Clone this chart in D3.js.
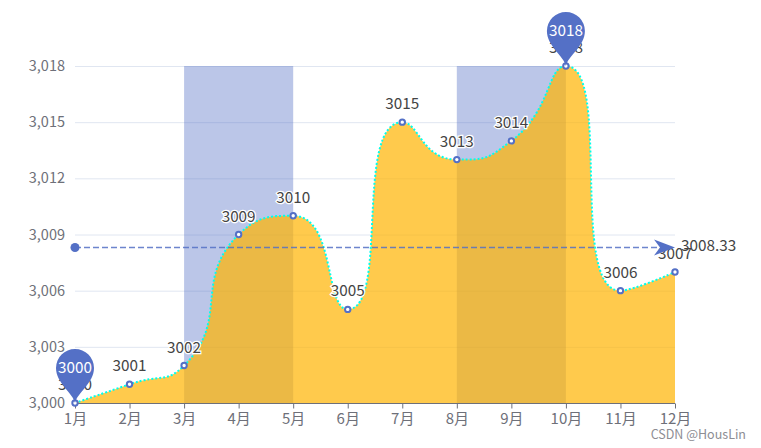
<!DOCTYPE html>
<html>
<head>
<meta charset="utf-8">
<script src="https://cdn.jsdelivr.net/npm/d3@7"></script>
<style>
    html, body { margin: 0; padding: 0; background: #fff; }
    svg { display: block; }
    text { font-family: "Noto Sans CJK SC", "Noto Sans", sans-serif; }
</style>
</head>
<body>
<svg></svg>
<script>
// chart values
var months = ["1月", "2月", "3月", "4月", "5月", "6月", "7月", "8月", "9月", "10月", "11月", "12月"];
var values = [3000, 3001, 3002, 3009, 3010, 3005, 3015, 3013, 3014, 3018, 3006, 3007];
var yTicks = [3000, 3003, 3006, 3009, 3012, 3015, 3018];
var bands = [["3月", "5月"], ["8月", "10月"]];
var pinned = [0, 9];
var average = 3008.33;

var svg = d3.select("svg").attr("width", 761).attr("height", 448);

var x = d3.scalePoint().domain(months).range([75, 675]);
var y = d3.scaleLinear().domain([3000, 3018]).range([403, 66]);

// same idea as the echarts smooth line, d3 has no curve like it
function smoothCurve(context) {
    var pts = [];
    var smooth = 0.6;
    return {
        areaStart: function() { this._line = 0; },
        areaEnd: function() { this._line = NaN; context.closePath(); },
        lineStart: function() { pts = []; },
        point: function(px, py) { pts.push([+px, +py]); },
        lineEnd: function() {
            var n = pts.length;
            var cpIn = [], cpOut = [];
            pts.forEach(function(p, i) {
                if (i === 0 || i === n - 1) { cpIn[i] = p; cpOut[i] = p; return; }
                var a = pts[i - 1], b = pts[i + 1];
                var vx = b[0] - a[0], vy = b[1] - a[1];
                var lenA = Math.hypot(p[0] - a[0], p[1] - a[1]);
                var lenB = Math.hypot(b[0] - p[0], b[1] - p[1]);
                var r = lenB / (lenA + lenB);
                var ox = p[0] + vx * r * smooth, oy = p[1] + vy * r * smooth;
                var ix = p[0] - vx * (1 - r) * smooth, iy = p[1] - vy * (1 - r) * smooth;
                // keep the control points inside the neighbouring values
                oy = Math.min(oy, Math.max(b[1], p[1])); oy = Math.max(oy, Math.min(b[1], p[1]));
                ox = Math.min(ox, Math.max(b[0], p[0]));
                ix = Math.max(ix, Math.min(a[0], p[0]));
                iy = Math.min(iy, Math.max(a[1], p[1])); iy = Math.max(iy, Math.min(a[1], p[1]));
                // recalc so both sides stay on one tangent
                var dx = ox - p[0], dy = oy - p[1];
                var ix2 = p[0] - dx * lenA / lenB, iy2 = p[1] - dy * lenA / lenB;
                var dx2 = ix - p[0], dy2 = iy - p[1];
                if (Math.hypot(dx2, dy2) < Math.hypot(ix2 - p[0], iy2 - p[1])) {
                    ox = p[0] - dx2 * lenB / lenA; oy = p[1] - dy2 * lenB / lenA;
                } else { ix = ix2; iy = iy2; }
                cpIn[i] = [ix, iy];
                cpOut[i] = [ox, oy];
            });
            if (this._line) context.lineTo(pts[0][0], pts[0][1]);
            else context.moveTo(pts[0][0], pts[0][1]);
            for (var i = 1; i < n; i++) {
                context.bezierCurveTo(cpOut[i - 1][0], cpOut[i - 1][1], cpIn[i][0], cpIn[i][1], pts[i][0], pts[i][1]);
            }
            this._line = 1;
        }
    };
}

// grid
svg.append("g").selectAll("line")
    .data(yTicks.slice(1))
    .join("line")
    .attr("x1", x.range()[0])
    .attr("x2", x.range()[1])
    .attr("y1", function(d) { return y(d) + 0.5; })
    .attr("y2", function(d) { return y(d) + 0.5; })
    .attr("stroke", "#e0e6f1");

// mark areas
svg.append("g").selectAll("rect")
    .data(bands)
    .join("rect")
    .attr("x", function(d) { return x(d[0]); })
    .attr("width", function(d) { return x(d[1]) - x(d[0]); })
    .attr("y", y(3018))
    .attr("height", y(3000) - y(3018))
    .attr("fill", "#5470c6")
    .attr("fill-opacity", 0.4);

var area = d3.area()
    .x(function(d, i) { return x(months[i]); })
    .y0(y(3000))
    .y1(function(d) { return y(d); })
    .curve(smoothCurve);

var line = d3.line()
    .x(function(d, i) { return x(months[i]); })
    .y(function(d) { return y(d); })
    .curve(smoothCurve);

svg.append("path")
    .datum(values)
    .attr("d", area)
    .attr("fill", "#ffb400")
    .attr("fill-opacity", 0.7);

svg.append("path")
    .datum(values)
    .attr("d", line)
    .attr("fill", "none")
    .attr("stroke", "#00ffee")
    .attr("stroke-width", 2)
    .attr("stroke-dasharray", "2 2");

// x axis
var xAxis = svg.append("g")
    .attr("transform", "translate(0," + (y(3000) + 0.5) + ")")
    .call(d3.axisBottom(x).tickSize(5).tickPadding(5));
xAxis.select(".domain").attr("stroke", "#6e7079").attr("d", "M75,0H675");
xAxis.selectAll(".tick line").attr("stroke", "#6e7079");
xAxis.selectAll(".tick text").attr("fill", "#6e7079").attr("font-size", 15);

// y axis, labels only
var yAxis = svg.append("g")
    .attr("transform", "translate(75,0)")
    .call(d3.axisLeft(y).tickValues(yTicks).tickFormat(d3.format(",")).tickSize(0).tickPadding(10));
yAxis.select(".domain").remove();
yAxis.selectAll(".tick text").attr("fill", "#6e7079").attr("font-size", 14.5);

// points
svg.append("g").selectAll("circle")
    .data(values)
    .join("circle")
    .attr("cx", function(d, i) { return x(months[i]); })
    .attr("cy", function(d) { return y(d); })
    .attr("r", 2.7)
    .attr("fill", "#fff")
    .attr("stroke", "#5470c6")
    .attr("stroke-width", 2);

// value labels
svg.append("g").selectAll("text")
    .data(values)
    .join("text")
    .attr("x", function(d, i) { return x(months[i]); })
    .attr("y", function(d) { return y(d) - 13; })
    .attr("text-anchor", "middle")
    .attr("font-size", 15.3)
    .attr("fill", "#444")
    .attr("stroke", "#fff")
    .attr("stroke-width", 2.5)
    .attr("paint-order", "stroke")
    .text(function(d) { return d; });

// average mark line, sits above the labels
var markLine = svg.append("g");
markLine.append("line")
    .attr("x1", x.range()[0])
    .attr("x2", x.range()[1] - 12)
    .attr("y1", y(average) + 0.5)
    .attr("y2", y(average) + 0.5)
    .attr("stroke", "#5470c6")
    .attr("stroke-opacity", 0.85)
    .attr("stroke-width", 1.5)
    .attr("stroke-dasharray", "6 3");
markLine.append("circle")
    .attr("cx", x.range()[0])
    .attr("cy", y(average) + 0.5)
    .attr("r", 4.5)
    .attr("fill", "#5470c6");
markLine.append("path")
    .attr("transform", "translate(" + x.range()[1] + "," + (y(average) + 0.5) + ")")
    .attr("d", "M0,0L-21,-8L-15,0L-21,8Z")
    .attr("fill", "#5470c6");
markLine.append("text")
    .attr("x", x.range()[1] + 6)
    .attr("y", y(average) + 4)
    .attr("font-size", 15.3)
    .attr("fill", "#444")
    .text(average);

// max and min pins
var pin = svg.append("g").selectAll("g")
    .data(pinned)
    .join("g")
    .attr("transform", function(i) { return "translate(" + x(months[i]) + "," + y(values[i]) + ")"; });
pin.append("path")
    .attr("d", "M0,0C-2,-10 -19,-20 -19,-35A19,19 0 1 1 19,-35C19,-20 2,-10 0,0Z")
    .attr("fill", "#5470c6");
pin.append("text")
    .attr("y", -30)
    .attr("text-anchor", "middle")
    .attr("font-size", 15.3)
    .attr("fill", "#fff")
    .text(function(i) { return values[i]; });

svg.append("text")
    .attr("x", 746)
    .attr("y", 439)
    .attr("text-anchor", "end")
    .attr("font-size", 12.5)
    .attr("fill", "#8d8d93")
    .text("CSDN @HousLin");
</script>
</body>
</html>
